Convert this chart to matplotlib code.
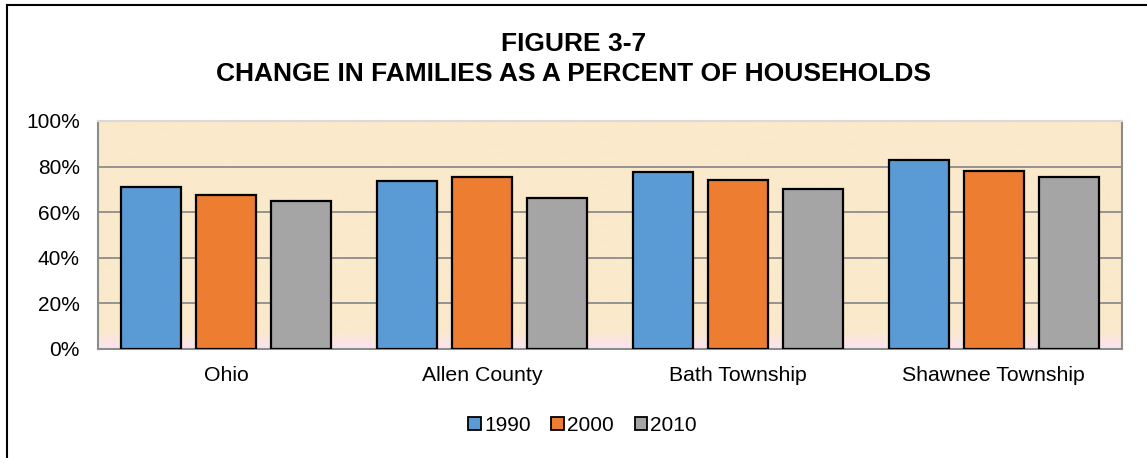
import numpy as np
import matplotlib
matplotlib.use("Agg")
import matplotlib.pyplot as plt
from matplotlib.colors import LinearSegmentedColormap
from matplotlib.lines import Line2D

plt.rcParams['font.family'] = ['Liberation Sans', 'DejaVu Sans']

places = ['Ohio', 'Allen County', 'Bath Township', 'Shawnee Township']
years = ['1990', '2000', '2010']
pct_1990 = [71.0, 73.6, 77.5, 83.0]
pct_2000 = [67.4, 75.5, 74.0, 78.2]
pct_2010 = [65.0, 66.4, 70.3, 75.2]
colors = ['#5B9BD5', '#ED7D31', '#A5A5A5']

fig = plt.figure(figsize=(11.47, 4.58), dpi=100)
ax = fig.add_axes([0.0854, 0.238, 0.8926, 0.498])

# plot area fill: tan fading to pink at the bottom
cmap = LinearSegmentedColormap.from_list(
    'bg', [(0.0, '#FCE3EF'), (0.08, '#FAE9CB'), (1.0, '#FAE9CA')])
grad = np.linspace(0, 1, 200).reshape(-1, 1)
ax.imshow(grad, cmap=cmap, origin='lower', aspect='auto',
          extent=[-0.5, 3.5, 0, 100], zorder=0)

x = np.arange(len(places))
w = 60 / 256
step = 75 / 256
for i, (vals, c) in enumerate(zip([pct_1990, pct_2000, pct_2010], colors)):
    ax.bar(x + (i - 1) * step, vals, width=w, color=c,
           edgecolor='black', linewidth=1.6, zorder=3)

ax.set_xlim(-0.5, 3.5)
ax.set_ylim(0, 100)
ax.set_yticks(range(0, 101, 20))
ax.set_yticklabels([f'{v}%' for v in range(0, 101, 20)], fontsize=15)
ax.set_xticks(x)
ax.set_xticklabels(places, fontsize=15.3)
ax.tick_params(length=0)
ax.tick_params(axis='y', pad=13)
ax.tick_params(axis='x', pad=12)
ax.grid(axis='y', color='#8C8C8C', linewidth=1.3, zorder=1)
ax.set_axisbelow(True)
for s in ax.spines.values():
    s.set_color('#8C8C8C')
    s.set_linewidth(1.5)
ax.spines['top'].set_color('#D9D9D9')

fig.text(0.5, 0.903, 'FIGURE 3-7', ha='center', va='center',
         fontsize=19, fontweight='bold')
fig.text(0.5, 0.838, 'CHANGE IN FAMILIES AS A PERCENT OF HOUSEHOLDS',
         ha='center', va='center', fontsize=19, fontweight='bold')

handles = [plt.Rectangle((0, 0), 1, 1, facecolor=c, edgecolor='black',
                         linewidth=1.3) for c in colors]
fig.legend(handles, years, loc='center', bbox_to_anchor=(0.508, 0.072),
           ncol=3, frameon=False, fontsize=15, handlelength=0.6,
           handleheight=0.6, handletextpad=0.15, columnspacing=1.0)

# outer frame lines along the top and left edges
fig.add_artist(Line2D([0.0065, 1.0], [0.988, 0.988], color='black',
                      linewidth=1.5, transform=fig.transFigure))
fig.add_artist(Line2D([0.0065, 0.0065], [0.0, 0.988], color='black',
                      linewidth=1.5, transform=fig.transFigure))

fig.savefig('out.png', dpi=100)
